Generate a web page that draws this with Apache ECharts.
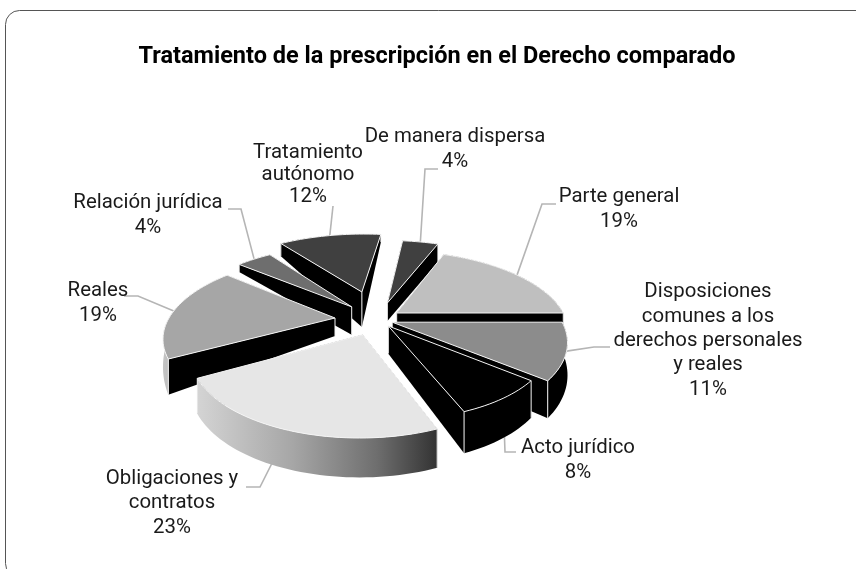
<!DOCTYPE html>
<html>
<head>
<meta charset="utf-8">
<style>
  html, body { margin: 0; padding: 0; background: #fff; }
  #chart { width: 856px; height: 569px; }
</style>
<script src="https://cdn.jsdelivr.net/npm/echarts@6/dist/echarts.min.js"></script>
</head>
<body>
<div id="chart"></div>
<script>
const titleText = "Tratamiento de la prescripción en el Derecho comparado";
const categories = [
  "Parte general",
  "Disposiciones\ncomunes a los\nderechos personales\ny reales",
  "Acto jurídico",
  "Obligaciones y\ncontratos",
  "Reales",
  "Relación jurídica",
  "Tratamiento\nautónomo",
  "De manera dispersa",
];
const values = [19, 11, 8, 23, 19, 4, 12, 4];

// looks of each slice, same order as categories
const topColors = ["#bfbfbf", "#8c8c8c", "#000000", "#e6e6e6", "#a6a6a6", "#6e6e6e", "#404040", "#404040"];
const sliceOffsets = [[24, 11], [19, -9], [15, -17], [-10, -35], [-38, 0], [-22, 25], [-12, 61], [15, 34]];
const sliceRadius = [169, 168, 155, 160, 166, 176, 178, 182];
const wallDepth = [[30, 18], [29, 12], [26, 16], [30, 8], [18, 37], [32.5, 30], [44.5, 25.6], [18, 0]];
const paintOrder = [6, 7, 5, 0, 4, 1, 2, 3];
const labelCenters = [[619, 209], [708, 341], [578, 460], [172, 503], [98, 303], [148, 215], [308, 175], [455, 149]];
const labelLineHeights = [25, 24.3, 25, 24.5, 25, 25, 22, 25];
const labelElbows = [[[542, 204], [556, 204]], [[594, 347], [610, 347]], [[505, 452], [516, 452]], [[260, 487], [246, 487]],
  [[138, 296], [124, 296]], [[241, 209], [228, 209]], [[333, 206], [333, 206]], [[425, 169], [438, 169]]];

// tilted pie with some perspective, front is bigger than back
const cx = 373, cy = 318, R = 166, tilt = 0.46, persp = 0.215;
const startAngle = 68.4;

function project(x, y, depth) {
  const s = 1 / (1 + persp * y / R);
  const d = depth ? Math.max(6, depth[0] - depth[1] * y / R) : 0;
  return [cx + x * s, cy - y * tilt * s + d];
}

const total = values.reduce((a, b) => a + b, 0);
let cum = 0;
const slices = values.map((v) => {
  const from = startAngle - (cum / total) * 360;
  cum += v;
  const to = startAngle - (cum / total) * 360;
  return { from, to, mid: (from + to) / 2 };
});

function rimGradient(i) {
  if (i === 3) {
    return new echarts.graphic.LinearGradient(0, 0, 1, 0, [
      { offset: 0, color: "#d4d4d4" },
      { offset: 0.4, color: "#a6a6a6" },
      { offset: 0.75, color: "#6e6e6e" },
      { offset: 1, color: "#333333" },
    ]);
  }
  if (i === 4) {
    return new echarts.graphic.LinearGradient(0, 0, 1, 0, [
      { offset: 0, color: "#c4c4c4" },
      { offset: 1, color: "#8a8a8a" },
    ]);
  }
  return "#000";
}

function renderSlice(params, api) {
  const i = params.dataIndex;
  const sl = slices[i];
  const z = paintOrder.indexOf(i) * 10;
  const rad = (a) => (a * Math.PI) / 180;
  const [ox, oy] = sliceOffsets[i];
  const r = sliceRadius[i];
  const depth = wallDepth[i];
  const arcTop = [], arcBot = [];
  const steps = Math.max(6, Math.round(api.value(0) * 2));
  for (let n = 0; n <= steps; n++) {
    const a = rad(sl.from + ((sl.to - sl.from) * n) / steps);
    const x = ox + r * Math.cos(a), y = oy + r * Math.sin(a);
    arcTop.push(project(x, y));
    arcBot.push(project(x, y, depth));
  }
  const apexTop = project(ox, oy), apexBot = project(ox, oy, depth);
  const last = arcTop.length - 1;
  const white = { stroke: "#f4f4f4", lineWidth: 1, fill: null };
  const children = [];

  // leader line, goes under the slice
  const m = rad(sl.mid);
  const start = project(ox + r * Math.cos(m), oy + r * Math.sin(m));
  children.push({
    type: "polyline",
    z2: -1,
    shape: { points: [start].concat(labelElbows[i]) },
    style: { stroke: "#b5b5b5", lineWidth: 1.6, fill: null },
  });
  const wall = (pts, z2) => ({ type: "polygon", z2, shape: { points: pts }, style: { fill: "#000" } });
  children.push(wall([apexTop, arcTop[0], arcBot[0], apexBot], z));
  children.push(wall([apexTop, arcTop[last], arcBot[last], apexBot], z));
  children.push({
    type: "polygon",
    z2: z + 1,
    shape: { points: arcTop.concat(arcBot.slice().reverse()) },
    style: { fill: rimGradient(i) },
  });
  [[apexTop, apexBot], [arcTop[0], arcBot[0]], [arcTop[last], arcBot[last]]].forEach((seg) => {
    children.push({ type: "polyline", z2: z + 2, shape: { points: seg }, style: white });
  });
  children.push({
    type: "polygon",
    z2: z + 3,
    shape: { points: [apexTop].concat(arcTop) },
    style: { fill: topColors[i], stroke: "#f4f4f4", lineWidth: 1 },
  });
  children.push({
    type: "text",
    z2: 200,
    x: labelCenters[i][0],
    y: labelCenters[i][1],
    style: {
      text: categories[i] + "\n" + api.value(0) + "%",
      fill: "#1a1a1a",
      font: "20.4px Roboto",
      lineHeight: labelLineHeights[i],
      align: "center",
      verticalAlign: "middle",
    },
  });
  return { type: "group", children };
}

const chart = echarts.init(document.getElementById("chart"), null, { renderer: "canvas" });
chart.setOption({
  animation: false,
  backgroundColor: "#fff",
  title: {
    text: titleText,
    left: 432,
    top: 40,
    textAlign: "center",
    textStyle: { fontFamily: "Roboto", fontSize: 23.5, fontWeight: "bold", color: "#000" },
  },
  graphic: [{
    type: "rect",
    shape: { x: 5.5, y: 10.5, width: 950, height: 567, r: 14 },
    style: { fill: null, stroke: "#555", lineWidth: 1 },
  }],
  series: [{
    type: "custom",
    coordinateSystem: "none",
    renderItem: renderSlice,
    data: values.map((v) => [v]),
    silent: true,
  }],
});
</script>
</body>
</html>
